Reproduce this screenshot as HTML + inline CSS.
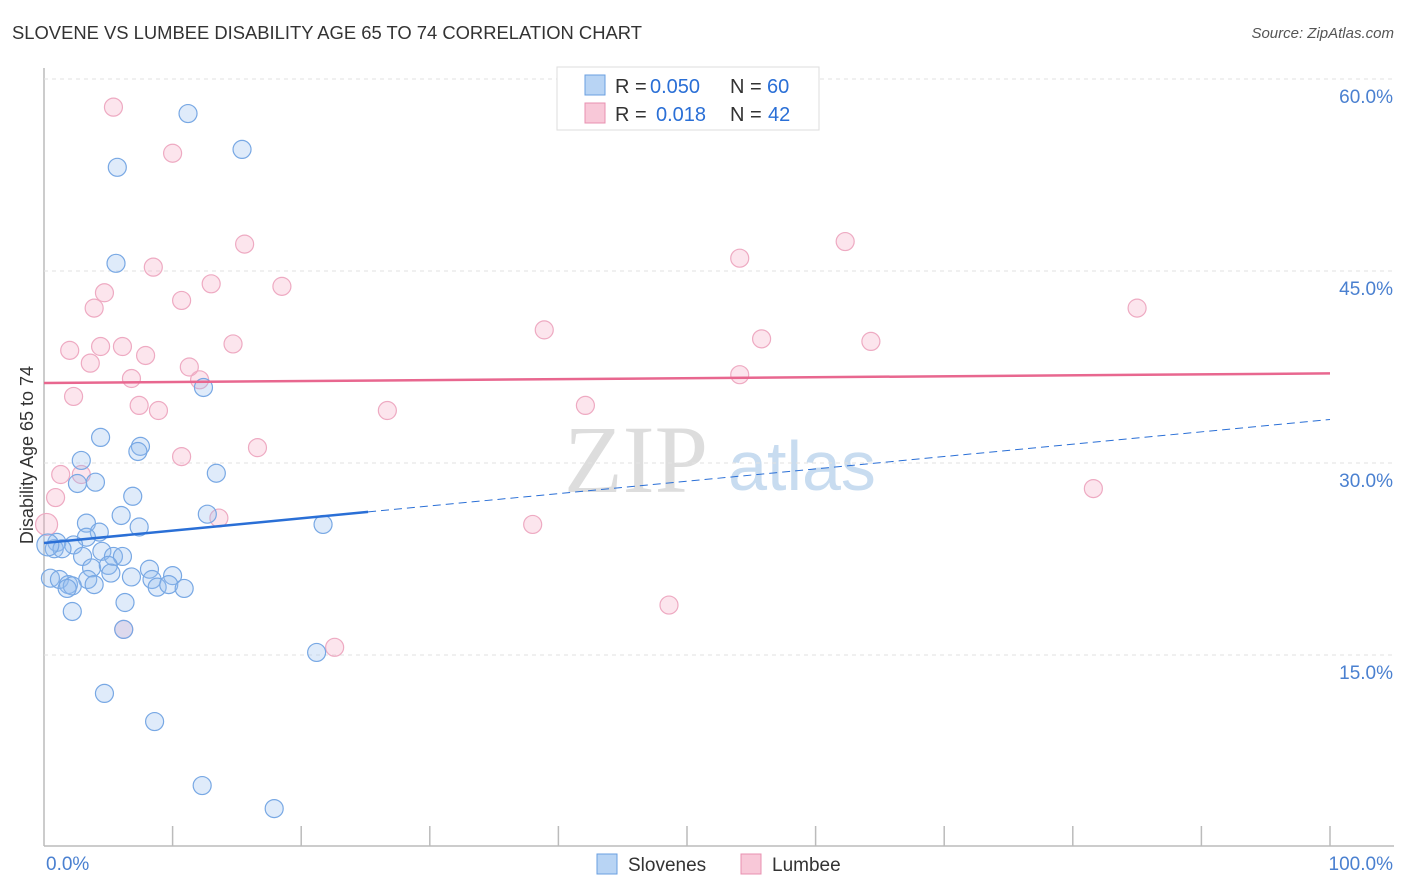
<!DOCTYPE html>
<html><head><meta charset="utf-8"><style>
body{margin:0;background:#fff;font-family:"Liberation Sans",sans-serif;}
#wrap{position:relative;width:1406px;height:892px;overflow:hidden;}
.t{position:absolute;white-space:nowrap;}
</style></head><body>
<div id="wrap">
<div class="t" style="left:12px;top:22px;font-size:18.4px;color:#333;">SLOVENE VS LUMBEE DISABILITY AGE 65 TO 74 CORRELATION CHART</div>
<div class="t" style="right:12px;top:25px;font-size:15px;color:#555;font-style:italic;">Source: ZipAtlas.com</div>
<svg id="svg" width="1406" height="892" style="position:absolute;left:0;top:0">
<text x="636" y="492" text-anchor="middle" font-family="Liberation Serif" font-size="96" fill="#ddd">ZIP</text>
<text x="802" y="490" text-anchor="middle" font-family="Liberation Sans" font-size="70" fill="#c8dcf0">atlas</text>
<g id="grid"></g><g id="pts"></g><g id="lines"></g>
<text transform="translate(33,455) rotate(-90)" text-anchor="middle" font-size="18" fill="#333">Disability Age 65 to 74</text>
<g>
<rect x="557" y="67" width="262" height="63" fill="#fff" stroke="#ddd"/>
<rect x="585" y="75" width="20" height="20" fill="#b8d4f4" stroke="#6a9fe0"/>
<rect x="585" y="103" width="20" height="20" fill="#f8c8d8" stroke="#e890b0"/>
<text x="615" y="93" font-size="20" fill="#333">R =</text>
<text x="650" y="93" font-size="20" fill="#2a6fd6">0.050</text>
<text x="730" y="93" font-size="20" fill="#333">N =</text>
<text x="767" y="93" font-size="20" fill="#2a6fd6">60</text>
<text x="615" y="121" font-size="20" fill="#333">R =</text>
<text x="656" y="121" font-size="20" fill="#2a6fd6">0.018</text>
<text x="730" y="121" font-size="20" fill="#333">N =</text>
<text x="768" y="121" font-size="20" fill="#2a6fd6">42</text>
</g>
<g>
<rect x="597" y="854" width="20" height="20" fill="#b8d4f4" stroke="#6a9fe0"/>
<text x="628" y="871" font-size="19" fill="#333">Slovenes</text>
<rect x="741" y="854" width="20" height="20" fill="#f8c8d8" stroke="#e890b0"/>
<text x="772" y="871" font-size="19" fill="#333">Lumbee</text>
</g>
</svg>
</div>
<script>
const yTicks=[15,30,45,60];
const yTickLabels=["15.0%","30.0%","45.0%","60.0%"];
const xTickLabels=["0.0%","100.0%"];
const bx=[11.2,15.4,5.7,5.6,12.4,4.4,7.5,7.3,2.9,13.4,4.0,2.6,6.9,12.7,6.0,21.7,7.4,3.3,4.3,3.3,1.0,2.3,0.8,1.4,3.0,4.5,5.4,6.1,3.7,5.0,8.2,5.2,6.8,10.0,8.4,0.5,1.2,3.4,1.9,2.2,3.9,8.8,9.7,10.9,1.8,6.3,2.2,21.2,4.7,8.6,12.3,17.9,6.2,0.3];
const by=[57.3,54.5,53.1,45.6,35.9,32.0,31.3,30.9,30.2,29.2,28.5,28.4,27.4,26.0,25.9,25.2,25.0,25.3,24.6,24.2,23.8,23.6,23.3,23.3,22.7,23.1,22.7,22.7,21.8,22.0,21.7,21.4,21.1,21.2,20.9,21.0,20.9,20.9,20.5,20.4,20.5,20.3,20.5,20.2,20.2,19.1,18.4,15.2,12.0,9.8,4.8,3.0,17.0,23.6];
const px=[5.4,10.0,15.6,8.5,13.0,18.5,4.7,10.7,3.9,14.7,2.0,4.4,6.1,7.9,3.6,11.3,6.8,12.1,2.3,7.4,8.9,10.7,16.6,1.3,2.9,0.9,13.6,0.2,6.2,22.6,38.9,26.7,42.1,38.0,48.6,54.1,55.8,54.1,62.3,64.3,85.0,81.6];
const py=[57.8,54.2,47.1,45.3,44.0,43.8,43.3,42.7,42.1,39.3,38.8,39.1,39.1,38.4,37.8,37.5,36.6,36.5,35.2,34.5,34.1,30.5,31.2,29.1,29.1,27.3,25.7,25.2,17.0,15.6,40.4,34.1,34.5,25.2,18.9,46.0,39.7,36.9,47.3,39.5,42.1,28.0];
const blueTrend=[23.75,33.4];
const pinkTrend=[36.25,37.0];
const blueSolidEnd=25.2;
const X=v=>44+v*12.86, Y=v=>847-v*12.8;
const NS="http://www.w3.org/2000/svg";
function mk(tag,attrs,parent){const e=document.createElementNS(NS,tag);for(const k in attrs)e.setAttribute(k,attrs[k]);document.getElementById(parent).appendChild(e);return e;}
let a=mk('line',{x1:44,y1:68,x2:44,y2:846,stroke:'#bbb','stroke-width':1.5},'grid');


a=mk('line',{x1:44,y1:846,x2:1394,y2:846,stroke:'#bbb','stroke-width':1.5},'grid');


yTicks.forEach((t,i)=>{
 const g=mk('line',{x1:44,y1:Y(t),x2:1394,y2:Y(t),stroke:'#e2e2e2','stroke-dasharray':'4,4'},'grid');
 
 
 const l=mk('text',{x:1393,y:Y(t)+24,'text-anchor':'end','font-size':19,fill:'#4a80d0'},'grid');
 l.textContent=yTickLabels[i];
 
 
});
for(let i=1;i<=10;i++){
 const t=mk('line',{x1:X(i*10),y1:826,x2:X(i*10),y2:846,stroke:'#bbb','stroke-width':1.5},'grid');
 
 
}
[[0,'start',46],[1,'end',1393]].forEach(([i,an,x])=>{
 const l=mk('text',{x:x,y:870,'text-anchor':an,'font-size':19,fill:'#4a80d0'},'grid');
 l.textContent=xTickLabels[i];
 
 
});
px.forEach((v,i)=>{
 const c=mk('circle',{cx:X(v),cy:Y(py[i]),r:i==27?11:9,fill:'rgba(244,170,196,0.3)',stroke:'#eeaac2','stroke-width':1.2},'pts');
 
 
});
bx.forEach((v,i)=>{
 const c=mk('circle',{cx:X(v),cy:Y(by[i]),r:i==53?11:9,fill:'rgba(150,190,240,0.3)',stroke:'#78a8e4','stroke-width':1.2},'pts');
 
 
});
const bAt=x=>blueTrend[0]+(blueTrend[1]-blueTrend[0])*x/100;
let l=mk('line',{x1:X(0),y1:Y(bAt(0)),x2:X(blueSolidEnd),y2:Y(bAt(blueSolidEnd)),stroke:'#2a6fd6','stroke-width':2.5},'lines');


l=mk('line',{x1:X(blueSolidEnd),y1:Y(bAt(blueSolidEnd)),x2:X(100),y2:Y(bAt(100)),stroke:'#2a6fd6','stroke-width':1,'stroke-dasharray':'8,5'},'lines');


l=mk('line',{x1:X(0),y1:Y(pinkTrend[0]),x2:X(100),y2:Y(pinkTrend[1]),stroke:'#e8678f','stroke-width':2.5},'lines');


</script>
</body></html>
